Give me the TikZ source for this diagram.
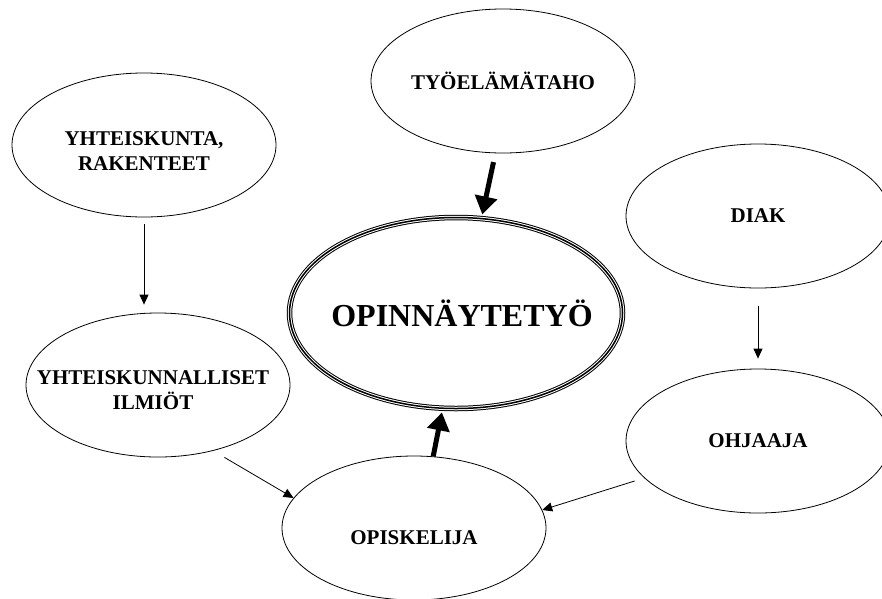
\documentclass[tikz,border=0pt]{standalone}
\usepackage{fontspec}
\setmainfont{Liberation Serif}
\usepackage{tikz}
\usetikzlibrary{arrows.meta,shapes,positioning}
\tikzstyle{bubble} = [draw, ellipse, line width=0.8pt, minimum width=264pt,
    minimum height=144pt, inner sep=0pt]
\tikzstyle{triple} = [draw=white, ellipse, line width=3.5pt, minimum width=333pt,
    minimum height=191pt, inner sep=0pt, preaction={draw=black, line width=5.5pt},
    postaction={draw=black, line width=1.5pt}]
\tikzstyle{lbl} = [align=center, inner sep=0pt, font=\fontsize{21}{25}\selectfont\bfseries]
\tikzstyle{biglbl} = [inner sep=0pt, font=\fontsize{32}{38}\selectfont\bfseries]
\tikzstyle{linkarrow} = [-{Triangle[length=10pt,width=9pt]}, line width=0.8pt]
\tikzstyle{bigarrow} = [-{Triangle[length=18pt,width=22pt]}, line width=5pt]

\begin{document}
\begin{tikzpicture}[x=1pt, y=-1pt, node distance = 240pt, auto]
  \useasboundingbox (0,0) rectangle (882,598);
  \clip (0,0) rectangle (882,598);
  \node [triple] (opinn) at (456,313) {};
  \node [bubble, node distance = 232pt, above of=opinn, xshift=47pt] (tyo) {};
  \node [bubble, node distance = 215pt, below of=opinn, xshift=-42pt] (opisk) {};
  \node [bubble] (yht) at (144,145) {};
  \node [bubble, node distance = 240pt, below of=yht, xshift=14pt] (ilmiot) {};
  \node [bubble] (diak) at (758,216) {};
  \node [bubble, node distance = 225pt, below of=diak] (ohjaaja) {};
  \node [biglbl, xshift=6pt] (opinn-t) at (opinn) {OPINNÄYTETYÖ};
  \node [lbl] (tyo-t) at (tyo) {TYÖELÄMÄTAHO};
  \node [lbl, yshift=-10pt] (opisk-t) at (opisk) {OPISKELIJA};
  \node [lbl, yshift=-6pt] (yht-t) at (yht) {YHTEISKUNTA,\\RAKENTEET};
  \node [lbl, xshift=-5pt, yshift=-5pt] (ilmiot-t) at (ilmiot) {YHTEISKUNNALLISET\\ILMIÖT};
  \node [lbl] (diak-t) at (diak) {DIAK};
  \node [lbl] (ohjaaja-t) at (ohjaaja) {OHJAAJA};
  \draw [bigarrow, shorten <=9pt, shorten >=2.5pt] (tyo.-96) -- (opinn.75);
  \draw [bigarrow, shorten >=2.5pt] (opisk.75) -- (opinn.-98);
  \draw [linkarrow, shorten <=7pt, shorten >=8pt] (yht.south) -- (yht.south |- ilmiot.north);
  \draw [linkarrow, shorten <=18pt, shorten >=10pt] (diak) -- (ohjaaja);
  \draw [linkarrow, shorten <=13pt] (ilmiot.-50) -- (opisk.166);
  \draw [linkarrow, shorten <=10pt] (ohjaaja.198) -- (opisk.8);
\end{tikzpicture}
\end{document}
